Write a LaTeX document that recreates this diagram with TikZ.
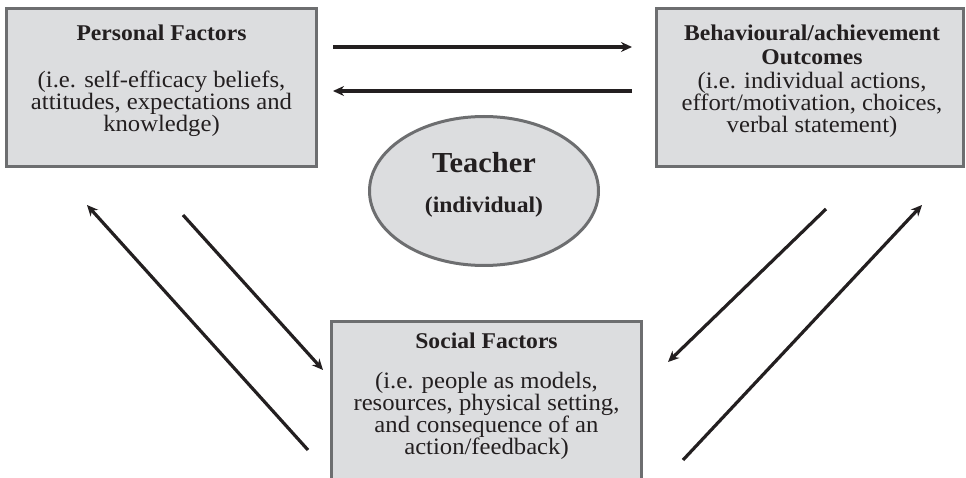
\documentclass[tikz,border=0pt]{standalone}
\usepackage{fontspec}
\setmainfont{Liberation Serif}[FakeStretch=1.05]
\usetikzlibrary{arrows.meta,shapes.geometric}
\definecolor{boxfill}{HTML}{DCDDDF}
\definecolor{boxline}{HTML}{6D6E70}
\definecolor{ink}{HTML}{231F20}
\tikzset{
  panel/.style={draw=boxline,fill=boxfill,line width=3pt},
  ttl/.style={text=ink,align=center,font=\fontsize{22.5}{24}\selectfont\bfseries,inner sep=0pt},
  body/.style={text=ink,align=center,font=\fontsize{23.5}{22}\selectfont,inner sep=0pt},
  link/.style={draw=ink,line width=3.2pt,-{Stealth[length=11pt,width=10pt]}}
}
\begin{document}
\begin{tikzpicture}[x=1pt,y=-1pt]
\useasboundingbox (0,0) rectangle (966,478);
% boxes
\draw[panel] (6.5,8.5) rectangle (316.5,166.5);
\draw[panel] (656.5,8.5) rectangle (963.5,166.5);
\draw[panel] (331.5,321.5) rectangle (641.5,484);
\node[panel,ellipse,minimum width=229pt,minimum height=149pt,inner sep=0pt] (teacher) at (484,191) {};
% texts
\node[ttl,anchor=base] (pt) at (161.5,41) {Personal Factors};
\node[body] (pb) at (161.5,104) {(i.e. self-efficacy beliefs,\\attitudes, expectations and\\knowledge)};
\node[ttl] (bt) at (812,44.5) {Behavioural/achievement\\Outcomes};
\node[body] (bb) at (812,105) {(i.e. individual actions,\\effort/motivation, choices,\\verbal statement)};
\node[ttl,anchor=base,font=\fontsize{29}{29}\selectfont\bfseries] (tt) at (484,173) {Teacher};
\node[ttl,anchor=base] (ti) at (484,213) {(individual)};
\node[ttl,anchor=base] (st) at (486.5,348) {Social Factors};
\node[body] (sb) at (486.5,415.5) {(i.e. people as models,\\resources, physical setting,\\and consequence of an\\action/feedback)};
% arrow end points
\coordinate (a1s) at (333,47); \coordinate (a1e) at (632,47);
\coordinate (a2s) at (632,91); \coordinate (a2e) at (333,91);
\coordinate (a3s) at (308,450); \coordinate (a3e) at (87,205);
\coordinate (a4s) at (183,215); \coordinate (a4e) at (323,370);
\coordinate (a5s) at (826,209); \coordinate (a5e) at (668,362);
\coordinate (a6s) at (683,460); \coordinate (a6e) at (922,205);
\draw[link] (a1s) -- (a1e);
\draw[link] (a2s) -- (a2e);
\draw[link] (a3s) -- (a3e);
\draw[link] (a4s) -- (a4e);
\draw[link] (a5s) -- (a5e);
\draw[link] (a6s) -- (a6e);
\end{tikzpicture}
\end{document}
